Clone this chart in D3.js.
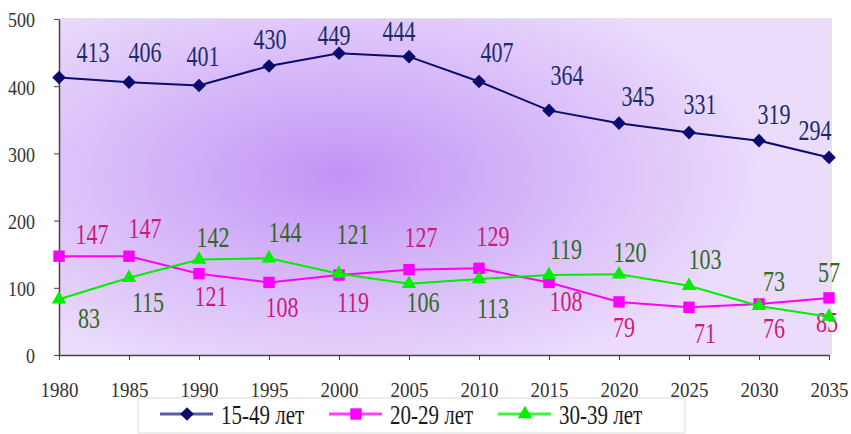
<!DOCTYPE html>
<html>
<head>
<meta charset="utf-8">
<script src="https://cdn.jsdelivr.net/npm/d3@7"></script>
<style>
  body { margin: 0; background: #ffffff; }
</style>
</head>
<body>
<svg id="chart" width="851" height="434"></svg>
<script>
/*---------------------
  -------- DATA -------
  ---------------------*/
var years = [1980, 1985, 1990, 1995, 2000, 2005, 2010, 2015, 2020, 2025, 2030, 2035];
var y_ticks = [0, 100, 200, 300, 400, 500];
var series_names = ["15-49 лет", "20-29 лет", "30-39 лет"];
var values_15_49 = [413, 406, 401, 430, 449, 444, 407, 364, 345, 331, 319, 294];
var values_20_29 = [147, 147, 121, 108, 119, 127, 129, 108, 79, 71, 76, 85];
var values_30_39 = [83, 115, 142, 144, 121, 106, 113, 119, 120, 103, 73, 57];

// label placement (offset from the point, px)
var lbl_15_49 = [[34,-25],[16,-30],[4,-29],[1,-27],[-5,-18],[-10,-25],[18,-29],[18,-35],[19,-27],[11,-28],[15,-26],[-14,-27]];
var lbl_20_29 = [[33,-22],[16,-28],[12,23],[13,25],[14,27],[12,-32],[14,-32],[17,19],[5,26],[16,26],[15,25],[-2,25]];
var lbl_30_39 = [[30,19],[19,25],[14,-22],[16,-26],[14,-39],[14,19],[14,29],[17,-26],[11,-22],[16,-26],[15,-24],[0,-44]];

var series = [
    {name: series_names[0], values: values_15_49, labels: lbl_15_49, line: "#0c0c6e", txt: "#1c2a6c", marker: "diamond"},
    {name: series_names[1], values: values_20_29, labels: lbl_20_29, line: "#ff00ff", txt: "#cc1a7e", marker: "square"},
    {name: series_names[2], values: values_30_39, labels: lbl_30_39, line: "#00ee00", txt: "#2f6a22", marker: "triangle"}
];

/*---------------------
  ------ LAYOUT -------
  ---------------------*/
var plot = {left: 59, right: 829, top: 19, bottom: 355};
var serif = "Liberation Serif";

var x = d3.scalePoint().domain(years).range([plot.left, plot.right]);
var y = d3.scaleLinear().domain([0, 500]).range([plot.bottom, plot.top]);

var svg = d3.select("#chart");

var defs = svg.append("defs");
var grad = defs.append("radialGradient")
    .attr("id", "bg")
    .attr("gradientUnits", "userSpaceOnUse")
    .attr("cx", 340).attr("cy", 175).attr("r", 430)
    .attr("gradientTransform", "translate(340,175) scale(1,0.5) translate(-340,-175)");
grad.append("stop").attr("offset", "0%").attr("stop-color", "#c293f6");
grad.append("stop").attr("offset", "40%").attr("stop-color", "#d3b2f8");
grad.append("stop").attr("offset", "100%").attr("stop-color", "#ebdcfc");

// plot area
svg.append("rect")
    .attr("x", plot.left).attr("y", plot.top - 1)
    .attr("width", plot.right - plot.left + 3).attr("height", plot.bottom - plot.top + 1)
    .attr("fill", "#e4e4e4");
svg.append("rect")
    .attr("x", plot.left).attr("y", plot.top)
    .attr("width", plot.right - plot.left).attr("height", plot.bottom - plot.top)
    .attr("fill", "url(#bg)");

/*---------------------
  ------- AXES --------
  ---------------------*/
var y_axis = svg.append("g")
    .attr("transform", "translate(" + plot.left + ",0)")
    .call(d3.axisLeft(y).tickValues(y_ticks).tickSize(5).tickSizeOuter(0));
y_axis.select(".domain").attr("stroke", "#444").attr("stroke-width", 1.5);
y_axis.selectAll(".tick line").attr("stroke", "#444");
y_axis.selectAll(".tick text")
    .attr("x", null).attr("dy", null)
    .attr("transform", "translate(-24,1) scale(1,1.15)")
    .attr("dominant-baseline", "central")
    .style("font-family", serif).style("font-size", "18px")
    .attr("fill", "#333");

var x_axis = svg.append("g")
    .attr("transform", "translate(0," + plot.bottom + ")")
    .call(d3.axisBottom(x).tickSize(5).tickSizeOuter(0));
x_axis.select(".domain").attr("stroke", "#444").attr("stroke-width", 1.5);
x_axis.selectAll(".tick line").attr("stroke", "#444");
x_axis.selectAll(".tick text")
    .attr("y", null).attr("dy", null)
    .attr("transform", "translate(0,42) scale(1,1.15)")
    .style("font-family", serif).style("font-size", "19px")
    .attr("fill", "#333");

/*---------------------
  ------ SERIES -------
  ---------------------*/
var line = d3.line()
    .x(function(d, i) { return x(years[i]); })
    .y(function(d) { return y(d); });

function marker_path(kind) {
    if (kind == "diamond") return d3.symbol().type(d3.symbolDiamond2).size(70)();
    if (kind == "square") return d3.symbol().type(d3.symbolSquare).size(130)();
    return d3.symbol().type(d3.symbolTriangle).size(90)();
}

var s_groups = svg.selectAll(".series")
    .data(series)
    .enter()
    .append("g")
    .attr("class", "series");

s_groups.append("path")
    .attr("d", function(s) { return line(s.values); })
    .attr("fill", "none")
    .attr("stroke", function(s) { return s.line; })
    .attr("stroke-width", 2);

s_groups.each(function(s) {
    var g = d3.select(this);
    g.selectAll(".pt")
        .data(s.values)
        .enter()
        .append("path")
        .attr("class", "pt")
        .attr("d", marker_path(s.marker))
        .attr("transform", function(d, i) {
            return "translate(" + x(years[i]) + "," + y(d) + ")" + (s.marker == "diamond" ? " scale(1.3,1.3)" : "");
        })
        .attr("fill", s.line);
});

// data labels
s_groups.each(function(s) {
    var g = d3.select(this);
    g.selectAll(".lbl")
        .data(s.values)
        .enter()
        .append("text")
        .attr("class", "lbl")
        .attr("transform", function(d, i) {
            return "translate(" + (x(years[i]) + s.labels[i][0]) + "," + (y(d) + s.labels[i][1]) + ") scale(1,1.3)";
        })
        .attr("text-anchor", "middle")
        .attr("dominant-baseline", "central")
        .style("font-family", serif)
        .style("font-size", "22px")
        .attr("fill", s.txt)
        .text(function(d) { return d; });
});

/*---------------------
  ------ LEGEND -------
  ---------------------*/
var legend = svg.append("g").attr("class", "legend");
legend.append("rect")
    .attr("x", 138).attr("y", 398)
    .attr("width", 547).attr("height", 35)
    .attr("fill", "#ffffff")
    .attr("stroke", "#dcdcdc");

var l_items = legend.selectAll(".item")
    .data(series)
    .enter()
    .append("g")
    .attr("class", "item")
    .attr("transform", function(s, i) { return "translate(" + (160 + i * 169) + ",414)"; });

l_items.append("line")
    .attr("x1", 0).attr("x2", 53)
    .attr("y1", 0).attr("y2", 0)
    .attr("stroke", function(s) { return s.marker == "diamond" ? "#5a5aa8" : s.line; })
    .attr("stroke-width", 3)
    .attr("opacity", function(s) { return s.marker == "diamond" ? 1 : 0.75; });

l_items.append("path")
    .attr("d", function(s) { return marker_path(s.marker); })
    .attr("transform", function(s) { return "translate(27,0)" + (s.marker == "diamond" ? " scale(1.3,1.3)" : ""); })
    .attr("fill", function(s) { return s.line; });

l_items.append("text")
    .attr("transform", "translate(61,1) scale(1,1.25)")
    .attr("dominant-baseline", "central")
    .style("font-family", serif)
    .style("font-size", "21px")
    .attr("fill", "#1a1a1a")
    .text(function(s) { return s.name; });
</script>
</body>
</html>
